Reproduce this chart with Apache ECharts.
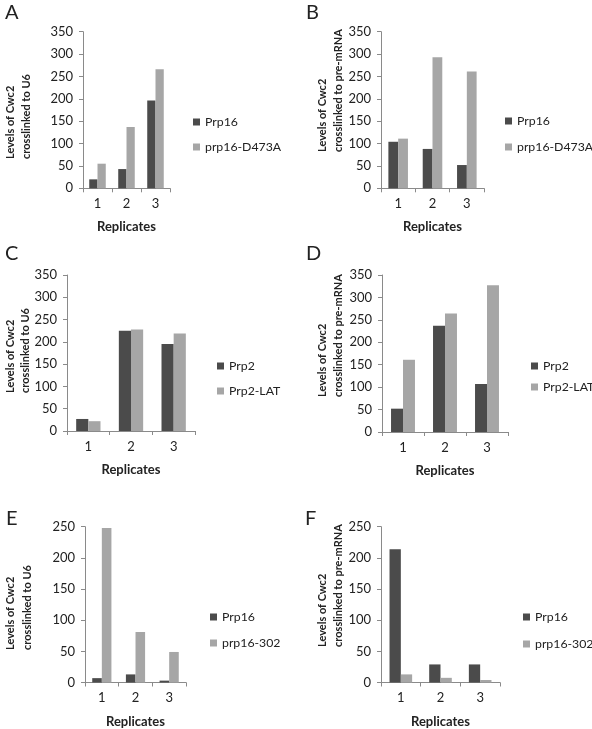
<!DOCTYPE html>
<html>
<head>
<meta charset="utf-8">
<script src="https://cdn.jsdelivr.net/npm/echarts@6/dist/echarts.min.js"></script>
<style>
html,body{margin:0;padding:0;background:#fff;}
#chart{width:592px;height:729px;}
</style>
</head>
<body>
<div id="chart"></div>
<script>
// ---- data ----
const replicates = ['1', '2', '3'];

const aPrp16 = [20, 43, 196];
const aD473A = [55, 137, 266];

const bPrp16 = [104, 88, 52];
const bD473A = [111, 293, 261];

const cPrp2 = [27, 225, 195];
const cPrp2LAT = [22, 228, 219];

const dPrp2 = [52, 237, 107];
const dPrp2LAT = [161, 264, 327];

const ePrp16 = [7, 13, 3];
const e302 = [248, 81, 49];

const fPrp16 = [214, 29, 29];
const f302 = [13, 7.5, 4];

const panelLetters = ['A', 'B', 'C', 'D', 'E', 'F'];
const yTitleU6 = ['Levels of Cwc2', 'crosslinked to U6'];
const yTitlePre = ['Levels of Cwc2', 'crosslinked to pre-mRNA'];
const xTitle = 'Replicates';
const yMaxTop = 350;   // panels A-D
const yMaxBottom = 250; // panels E-F
const yStep = 50;

// ---- styling / layout ----
const FONT = 'Lato, "Open Sans", sans-serif';
const DARK = '#4b4b4b';
const LIGHT = '#a6a6a6';
const AXIS = '#8a8a8a';
const TXT = '#222';

const panels = [
  { grid: {left: 83, top: 31.7, width: 87, height: 156.6}, max: yMaxTop,
    s: [['Prp16', aPrp16, DARK], ['prp16-D473A', aD473A, LIGHT]],
    legend: {left: 193, top: 115, gap: 11},
    letter: [5, 10], yt: yTitleU6, ytx: [10, 26], yty: 159 },
  { grid: {left: 381, top: 31.7, width: 103, height: 156.6}, max: yMaxTop,
    s: [['Prp16', bPrp16, DARK], ['prp16-D473A', bD473A, LIGHT]],
    legend: {left: 505, top: 114, gap: 12},
    letter: [306, 10], yt: yTitlePre, ytx: [322, 338], yty: 152 },
  { grid: {left: 67, top: 275, width: 128, height: 156}, max: yMaxTop,
    s: [['Prp2', cPrp2, DARK], ['Prp2-LAT', cPrp2LAT, LIGHT]],
    legend: {left: 217, top: 359, gap: 11},
    letter: [5, 251], yt: yTitleU6, ytx: [10, 25], yty: 393 },
  { grid: {left: 382, top: 275, width: 126, height: 157}, max: yMaxTop,
    s: [['Prp2', dPrp2, DARK], ['Prp2-LAT', dPrp2LAT, LIGHT]],
    legend: {left: 531, top: 359, gap: 7},
    letter: [306, 251], yt: yTitlePre, ytx: [322, 338], yty: 397 },
  { grid: {left: 85, top: 526.7, width: 101, height: 156}, max: yMaxBottom,
    s: [['Prp16', ePrp16, DARK], ['prp16-302', e302, LIGHT]],
    legend: {left: 210, top: 610, gap: 12},
    letter: [6, 516], yt: yTitleU6, ytx: [10, 27], yty: 650 },
  { grid: {left: 381, top: 526.7, width: 119, height: 156}, max: yMaxBottom,
    s: [['Prp16', fPrp16, DARK], ['prp16-302', f302, LIGHT]],
    legend: {left: 523, top: 610, gap: 13},
    letter: [305, 516], yt: yTitlePre, ytx: [322, 338], yty: 647 }
];

const grid = [], xAxis = [], yAxis = [], series = [], legend = [], graphic = [];

panels.forEach((p, i) => {
  grid.push(Object.assign({containLabel: false}, p.grid));
  xAxis.push({
    type: 'category', gridIndex: i, data: replicates, boundaryGap: true,
    axisLine: {lineStyle: {color: AXIS, width: 1}},
    axisTick: {show: true, length: 4, alignWithLabel: false, lineStyle: {color: AXIS}},
    axisLabel: {fontFamily: FONT, fontSize: 13, color: TXT, margin: 9},
    name: xTitle, nameLocation: 'middle', nameGap: 39,
    nameTextStyle: {fontFamily: FONT, fontSize: 13, fontWeight: 'bold', color: TXT, verticalAlign: 'middle'}
  });
  yAxis.push({
    type: 'value', gridIndex: i, min: 0, max: p.max, interval: yStep,
    splitLine: {show: false},
    axisLine: {show: true, lineStyle: {color: AXIS, width: 1}},
    axisTick: {show: true, length: 4, lineStyle: {color: AXIS}},
    axisLabel: {fontFamily: FONT, fontSize: 13, color: TXT, margin: 10}
  });
  p.s.forEach(([name, data, color]) => {
    series.push({
      type: 'bar', name, data, xAxisIndex: i, yAxisIndex: i,
      barGap: '0%', barCategoryGap: '43%',
      itemStyle: {color}, animation: false
    });
  });
  legend.push({
    data: p.s.map(s => s[0]), orient: 'vertical',
    left: p.legend.left, top: p.legend.top, padding: 0,
    itemGap: p.legend.gap, itemWidth: 7, itemHeight: 7, icon: 'rect',
    selectedMode: false,
    textStyle: {fontFamily: FONT, fontSize: 12.3, color: TXT, lineHeight: 14}
  });
  graphic.push({
    type: 'text', left: p.letter[0], top: p.letter[1] - 7,
    style: {text: panelLetters[i], fontFamily: FONT, fontSize: 20, fill: TXT}
  });
  p.yt.forEach((line, k) => {
    graphic.push({
      type: 'text', x: p.ytx[k], y: p.yty, rotation: Math.PI / 2,
      style: {text: line, fontFamily: FONT, fontSize: 11, fontWeight: 'bold', fill: TXT,
              align: 'left', verticalAlign: 'middle'}
    });
  });
});

const chart = echarts.init(document.getElementById('chart'), null, {renderer: 'canvas'});
chart.setOption({
  animation: false,
  backgroundColor: '#fff',
  grid, xAxis, yAxis, series, legend, graphic
});
</script>
</body>
</html>
